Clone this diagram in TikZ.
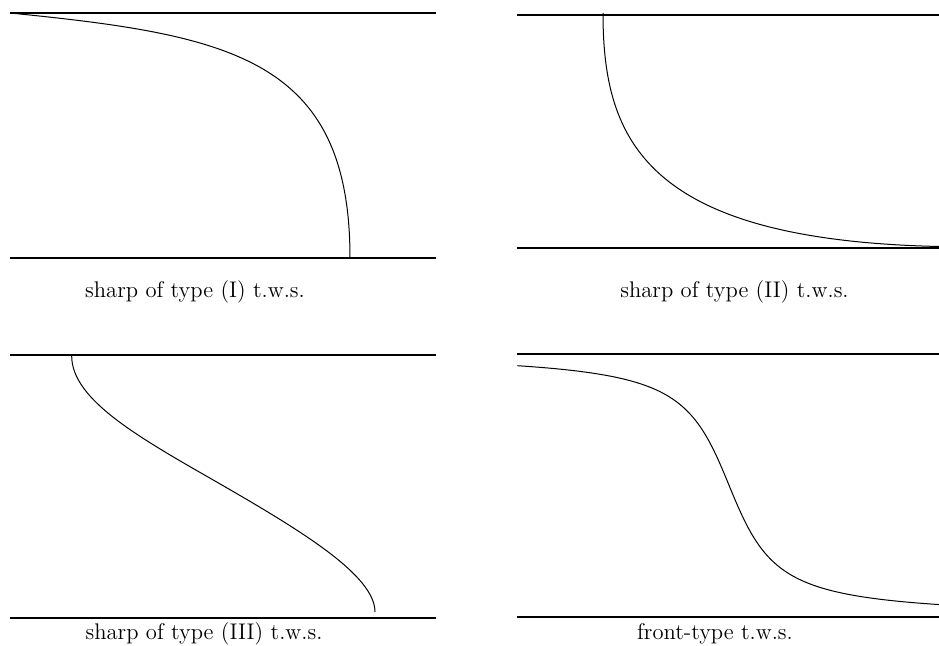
\documentclass[tikz,border=0pt]{standalone}
\begin{document}
\begin{tikzpicture}[x=0.5pt,y=-0.5pt,
  wall/.style={line width=0.6pt},
  profile/.style={line width=0.5pt},
  caption/.style={anchor=base,inner sep=0pt,font=\fontsize{11.3pt}{13pt}\selectfont}]
\useasboundingbox (0,0) rectangle (939,646);
% Panel I
\draw[wall] (10,13) -- (436,13);
\draw[wall] (10,258) -- (436,258);
\draw[profile] (10,13) .. controls (230,35) and (350,58) .. (350,258);
\node[caption] (c1) at (195,298) {sharp of type (I) t.w.s.};
% Panel II
\draw[wall] (517,15) -- (939,15);
\draw[wall] (517,248) -- (939,248);
\draw[profile] (603,13) .. controls (603,140) and (645,240) .. (939,246.5);
\node[caption] (c2) at (734.5,298) {sharp of type (II) t.w.s.};
% Panel III
\draw[wall] (10,355) -- (436,355);
\draw[wall] (10,618) -- (436,618);
\draw[profile] (71.7,356) .. controls (71.7,400) and (140,438) .. (216.7,482)
               .. controls (300,530) and (375,575) .. (375,612);
\node[caption] (c3) at (204,640) {sharp of type (III) t.w.s.};
% Panel IV
\draw[wall] (517,354) -- (939,354);
\draw[wall] (517,617) -- (939,617);
\draw[profile] plot[domain=517.3:939,samples=120,smooth] (\x,{485.2+133.4*atan((\x-729)/35)/90});
\node[caption] (c4) at (715,640) {front-type t.w.s.};
\end{tikzpicture}
\end{document}
